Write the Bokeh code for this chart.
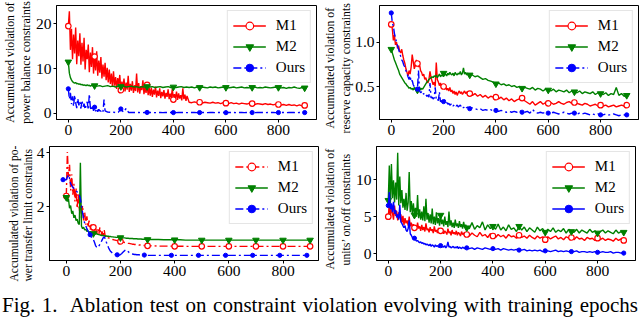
from bokeh.plotting import figure
from bokeh.layouts import column, row
from bokeh.models import (Div, Range1d, FixedTicker, PrintfTickFormatter,
                          Legend, LegendItem, Title)
from bokeh.embed import file_html
from bokeh.resources import INLINE

FONT = "Liberation Serif"

# ---------------- data ----------------
X_TICKS = [0, 200, 400, 600, 800]

# Panel 1: power balance constraints
EP1_M1 = list(range(0, 453, 4)) + list(range(460, 901, 10))
P1_M1 = [
    19.5, 22.8, 14.2, 18.9, 12.1, 17.6, 13.4, 19.2, 11.0, 16.3, 12.8, 17.9, 10.9,
    15.8, 11.6, 16.9, 9.8, 14.2, 12.1, 15.4, 9.2, 13.6, 10.4, 14.8, 8.9, 12.7,
    9.6, 13.9, 8.4, 11.8, 9.1, 12.6, 7.8, 10.9, 8.2, 11.3, 7.4, 10.2, 6.9,
    9.8, 6.6, 8.9, 5.9, 9.4, 6.2, 8.1, 5.5, 7.9, 6.4, 8.6, 5.2, 7.1,
    5.6, 7.8, 4.9, 6.9, 5.3, 8.4, 4.8, 6.6, 5.1, 7.2, 4.6, 6.3, 5.0,
    8.9, 4.7, 6.8, 4.4, 6.1, 5.2, 7.4, 4.3, 5.9, 4.6, 6.4, 4.1, 5.7,
    4.0, 5.8, 3.7, 5.3, 4.2, 6.0, 3.6, 5.1, 3.9, 5.6, 3.4, 4.8, 3.8,
    5.2, 3.3, 4.6, 3.7, 5.4, 3.2, 4.4, 3.6, 5.5, 3.1, 4.3, 3.4, 4.9,
    3.0, 4.5, 3.3, 4.1, 2.9, 5.6, 3.2, 4.2, 2.8, 3.9,
    2.5, 2.4, 2.6, 2.4, 2.5, 2.3, 2.5, 2.4, 2.3, 2.5,
    2.3, 2.4, 2.2, 2.4, 2.3, 2.2, 2.4, 2.2, 2.3, 2.1,
    2.3, 2.2, 2.1, 2.3, 2.2, 2.0, 2.2, 2.1, 2.0, 2.2,
    2.0, 2.1, 1.9, 2.1, 2.0, 1.9, 2.0, 1.8, 2.0, 1.8,
    1.9, 1.7, 1.9, 1.7, 1.8,
]
EP1_M2 = list(range(0, 101, 4)) + list(range(110, 901, 10))
P1_M2 = [
    11.5, 9.0, 8.0, 7.5, 7.1, 6.9, 6.8, 6.9, 6.6, 6.7, 6.5, 6.6, 6.4,
    6.5, 6.3, 6.4, 6.3, 6.2, 6.4, 6.2, 6.3, 6.1, 6.2, 6.3, 6.1, 6.2,
    6.1, 6.2, 6.0, 6.1, 6.2, 6.0, 6.1, 5.9, 6.1, 6.0,
    6.1, 5.9, 6.0, 6.1, 5.9, 6.0, 5.8, 6.0, 5.9, 6.0,
    5.9, 6.0, 5.8, 5.9, 6.0, 5.8, 5.9, 6.0, 5.8, 5.9,
    5.8, 5.9, 6.0, 5.8, 5.9, 5.8, 5.9, 5.7, 5.9, 5.8,
    5.9, 5.8, 5.7, 5.9, 5.8, 5.9, 5.7, 5.8, 5.9, 5.8,
    5.7, 5.8, 5.9, 5.7, 5.8, 5.9, 5.7, 5.8, 5.7, 5.8,
    5.9, 5.7, 5.8, 5.7, 5.9, 5.8, 5.7, 5.8, 5.9, 5.8,
    5.7, 5.8, 5.6, 5.8, 5.7, 5.9, 5.7, 5.6, 5.8, 5.7,
]
EP1_OURS = list(range(0, 141, 4)) + list(range(150, 901, 10))
P1_OURS = [
    5.5, 3.2, 4.6, 2.1, 3.8, 1.6, 4.1, 2.4, 1.2, 3.3,
    1.8, 2.7, 1.1, 2.9, 1.5, 2.2, 0.9, 1.9, 2.6, 0.8,
    4.3, 1.3, 0.7, 1.8, 0.6, 1.4, 0.5, 1.1, 0.4, 0.9,
    0.6, 0.5, 0.8, 0.4, 3.1, 0.6,
    0.3, 0.25, 0.3, 0.2, 0.25, 1.0, 0.3, 1.1, 0.2, 0.25,
    0.2, 0.22, 0.2, 0.18, 0.2, 0.22, 0.2, 0.2, 0.18, 0.2,
    0.2, 0.18, 0.2, 0.2, 0.22, 0.2, 0.18, 0.2, 0.2, 0.2,
    0.18, 0.2, 0.2, 0.2, 0.18, 0.2, 0.2, 0.2, 0.18, 0.2,
    0.2, 0.18, 0.2, 0.2, 0.2, 0.18, 0.2, 0.2, 0.2, 0.18,
    0.2, 0.2, 0.18, 0.2, 0.2, 0.2, 0.18, 0.2, 0.2, 0.2,
    0.18, 0.2, 0.2, 0.2, 0.18, 0.2, 0.2, 0.2, 0.18, 0.2,
    0.2, 0.2, 0.18, 0.2, 0.2, 0.2,
]

# Panel 2: reserve capacity constraints
EP2 = list(range(0, 301, 4)) + list(range(310, 901, 10))
P2_M1 = [
    1.20, 1.15, 1.02, 1.08, 0.97, 1.00, 0.93, 0.96, 0.90, 0.88, 0.92, 0.85, 0.80,
    0.76, 0.70, 0.66, 0.62, 0.68, 0.64, 0.72, 0.86, 0.78, 0.70, 0.74, 0.80, 0.76,
    0.72, 0.75, 0.68, 0.66, 0.62, 0.64, 0.58, 0.60, 0.56, 0.54, 0.58, 0.67, 0.60,
    0.56, 0.52, 0.55, 0.50, 0.77, 0.58, 0.55, 0.51, 0.54, 0.49, 0.52, 0.50, 0.47,
    0.50, 0.46, 0.48, 0.45, 0.49, 0.44, 0.46, 0.42, 0.45, 0.41, 0.44, 0.40, 0.43,
    0.45, 0.42, 0.44, 0.41, 0.43, 0.45, 0.42, 0.44, 0.41, 0.43, 0.42,
    0.40, 0.42, 0.39, 0.41, 0.38, 0.40, 0.37, 0.39, 0.38, 0.38,
    0.36, 0.38, 0.35, 0.37, 0.34, 0.36, 0.33, 0.35, 0.36, 0.37,
    0.34, 0.32, 0.30, 0.33, 0.29, 0.31, 0.33, 0.30, 0.32, 0.31,
    0.32, 0.30, 0.31, 0.33, 0.31, 0.30, 0.32, 0.33, 0.31, 0.32,
    0.31, 0.30, 0.29, 0.31, 0.30, 0.28, 0.29, 0.30, 0.28, 0.29,
    0.28, 0.29, 0.27, 0.28, 0.29, 0.27, 0.28, 0.29, 0.28, 0.29,
]
P2_M2 = [
    0.92, 0.88, 0.84, 0.80, 0.77, 0.74, 0.71, 0.68, 0.64, 0.62, 0.60, 0.58, 0.56,
    0.54, 0.53, 0.51, 0.50, 0.48, 0.49, 0.47, 0.48, 0.46, 0.49, 0.47, 0.48, 0.46,
    0.47, 0.49, 0.46, 0.48, 0.47, 0.49, 0.51, 0.53, 0.55, 0.56, 0.58, 0.59, 0.60,
    0.61, 0.60, 0.62, 0.61, 0.63, 0.60, 0.62, 0.64, 0.61, 0.63, 0.62, 0.65, 0.63,
    0.64, 0.62, 0.65, 0.63, 0.66, 0.64, 0.63, 0.65, 0.62, 0.66, 0.64, 0.63, 0.65,
    0.64, 0.67, 0.63, 0.65, 0.71, 0.64, 0.66, 0.63, 0.65, 0.64, 0.63,
    0.63, 0.61, 0.62, 0.60, 0.58, 0.59, 0.57, 0.56, 0.55, 0.53,
    0.54, 0.52, 0.53, 0.51, 0.52, 0.50, 0.51, 0.49, 0.50, 0.48,
    0.49, 0.48, 0.47, 0.49, 0.46, 0.48, 0.47, 0.45, 0.47, 0.46,
    0.45, 0.47, 0.44, 0.46, 0.45, 0.44, 0.46, 0.43, 0.45, 0.44,
    0.43, 0.45, 0.42, 0.44, 0.43, 0.42, 0.44, 0.41, 0.43, 0.42,
    0.41, 0.43, 0.40, 0.42, 0.41, 0.49, 0.40, 0.42, 0.39, 0.40,
]
P2_OURS = [
    1.33, 1.22, 1.18, 1.10, 1.05, 1.00, 0.96, 0.92, 0.88, 0.84, 0.80, 0.78, 0.74,
    0.72, 0.68, 0.65, 0.61, 0.58, 0.62, 0.55, 0.57, 0.52, 0.50, 0.48, 0.46, 0.47,
    0.68, 0.45, 0.43, 0.44, 0.41, 0.42, 0.40, 0.41, 0.39, 0.40, 0.38, 0.54, 0.37,
    0.38, 0.36, 0.37, 0.49, 0.35, 0.36, 0.34, 0.44, 0.33, 0.34, 0.32, 0.33, 0.35,
    0.31, 0.32, 0.30, 0.31, 0.29, 0.30, 0.31, 0.28, 0.29, 0.30, 0.28, 0.29, 0.27,
    0.28, 0.29, 0.27, 0.28, 0.26, 0.27, 0.28, 0.26, 0.27, 0.26, 0.25,
    0.26, 0.25, 0.24, 0.25, 0.23, 0.24, 0.23, 0.24, 0.22, 0.23,
    0.22, 0.23, 0.22, 0.21, 0.22, 0.21, 0.22, 0.21, 0.23, 0.21,
    0.21, 0.22, 0.20, 0.24, 0.21, 0.20, 0.21, 0.20, 0.21, 0.20,
    0.20, 0.21, 0.20, 0.19, 0.20, 0.21, 0.20, 0.19, 0.20, 0.20,
    0.19, 0.20, 0.19, 0.20, 0.19, 0.18, 0.19, 0.18, 0.19, 0.18,
    0.18, 0.19, 0.18, 0.18, 0.19, 0.18, 0.17, 0.18, 0.18, 0.18,
]

# Panel 3: power transfer limit constraints
EP3 = list(range(0, 301, 4)) + list(range(320, 901, 20))
P3_M1 = [
    2.40, 4.02, 3.10, 3.55, 2.60, 3.20, 2.45, 2.85, 2.20, 2.70, 1.95, 2.50, 1.85,
    2.25, 1.60, 2.05, 1.50, 1.80, 1.35, 1.65, 1.25, 1.50, 1.15, 1.35, 1.10, 1.25,
    1.05, 1.30, 1.00, 1.20, 0.98, 1.25, 0.95, 1.10, 0.92, 1.15, 0.90, 0.95, 0.88,
    0.86, 0.84, 0.83, 0.82, 0.80, 0.79, 0.78, 0.77, 0.76, 0.75, 0.74, 0.73, 0.72,
    0.71, 0.70, 0.69, 0.68, 0.67, 0.66, 0.66, 0.65, 0.64, 0.63, 0.63, 0.62, 0.62,
    0.61, 0.61, 0.60, 0.60, 0.59, 0.59, 0.58, 0.58, 0.58, 0.57, 0.57,
    0.57, 0.56, 0.56, 0.56, 0.55, 0.56, 0.55, 0.55, 0.55, 0.55,
    0.55, 0.55, 0.55, 0.55, 0.55, 0.55, 0.55, 0.55, 0.55, 0.55,
    0.55, 0.55, 0.55, 0.55, 0.55, 0.55, 0.55, 0.55, 0.55, 0.55,
]
P3_M2 = [
    2.35, 2.20, 2.30, 1.95, 2.05, 1.75, 1.85, 1.60, 1.70, 1.50, 1.55, 1.40, 1.35,
    3.62, 1.30, 1.20, 1.25, 1.15, 1.18, 1.10, 1.12, 1.06, 1.09, 1.04, 1.06, 1.02,
    1.03, 1.00, 1.02, 0.99, 0.98, 0.97, 0.96, 0.95, 0.95, 0.94, 0.93, 0.93, 0.92,
    0.92, 0.91, 0.91, 0.90, 0.90, 0.89, 0.89, 0.88, 0.88, 0.88, 0.87, 0.87, 0.87,
    0.86, 0.86, 0.86, 0.85, 0.85, 0.85, 0.84, 0.84, 0.84, 0.84, 0.83, 0.83, 0.83,
    0.83, 0.82, 0.82, 0.82, 0.82, 0.81, 0.81, 0.81, 0.81, 0.80, 0.80,
    0.80, 0.80, 0.79, 0.79, 0.79, 0.79, 0.78, 0.78, 0.78, 0.78,
    0.78, 0.78, 0.78, 0.78, 0.78, 0.78, 0.78, 0.78, 0.78, 0.78,
    0.78, 0.78, 0.78, 0.78, 0.78, 0.78, 0.78, 0.78, 0.78, 0.78,
]
EP3_OURS = list(range(-12, 301, 4)) + list(range(308, 901, 20))
P3_OURS = [
    3.00, 3.00, 3.00,
    3.00, 3.10, 3.18, 3.05, 2.85, 2.78, 2.72, 2.68, 2.64, 2.60, 2.55, 2.50, 2.45,
    2.30, 2.05, 1.80, 1.55, 1.40, 1.30, 1.20, 1.12, 1.05, 0.98, 0.90, 0.85, 0.80,
    0.70, 0.58, 0.52, 0.50, 0.56, 0.62, 0.70, 0.78, 0.86, 0.90, 0.82, 0.70, 0.60,
    0.50, 0.42, 0.36, 0.32, 0.28, 0.26, 0.25, 0.24, 0.24, 0.25, 0.22, 0.25, 0.28,
    0.32, 0.36, 0.40, 0.42, 0.40, 0.36, 0.32, 0.30, 0.28, 0.27, 0.26, 0.25, 0.25,
    0.24, 0.24, 0.24, 0.23, 0.23, 0.23, 0.23, 0.23, 0.22, 0.22, 0.22,
    0.22, 0.22, 0.22, 0.22, 0.22, 0.22, 0.22, 0.22, 0.22, 0.22,
    0.22, 0.22, 0.22, 0.22, 0.22, 0.22, 0.22, 0.22, 0.22, 0.22,
    0.22, 0.22, 0.22, 0.22, 0.22, 0.22, 0.22, 0.22, 0.22, 0.22,
]

# Panel 4: units' on/off constraints
EP4 = list(range(0, 301, 4)) + list(range(310, 901, 10))
P4_M1 = [
    5.0, 6.8, 4.8, 6.2, 5.5, 4.6, 6.5, 5.1, 5.8, 4.5, 5.6, 4.8, 5.3,
    4.2, 5.1, 3.9, 4.8, 4.1, 4.5, 3.8, 5.0, 3.7, 4.2, 3.6, 4.0, 3.5,
    3.8, 3.3, 4.2, 3.4, 3.7, 3.1, 3.9, 3.2, 3.6, 3.0, 4.1, 3.2, 3.4,
    2.9, 3.6, 3.1, 3.3, 2.8, 3.7, 3.0, 3.2, 2.8, 3.5, 2.9, 3.1, 2.8,
    3.3, 2.7, 3.1, 2.9, 2.6, 3.4, 2.8, 3.0, 2.5, 3.2, 2.7, 2.9, 2.6,
    3.1, 2.5, 2.9, 2.7, 2.4, 3.0, 2.6, 2.8, 2.4, 2.9, 2.6,
    2.4, 2.8, 2.5, 2.3, 2.9, 2.4, 2.6, 2.2, 2.7, 2.4,
    2.2, 2.6, 2.3, 2.5, 2.1, 2.6, 2.3, 2.4, 2.1, 2.5,
    2.2, 2.4, 2.1, 2.5, 2.2, 2.0, 2.4, 2.1, 2.3, 1.9,
    2.3, 2.0, 2.2, 2.4, 2.0, 2.2, 1.9, 2.3, 2.1, 2.2,
    1.9, 2.3, 2.0, 2.1, 1.8, 2.2, 2.0, 2.1, 1.8, 2.1,
    1.9, 2.1, 1.8, 2.0, 1.9, 1.7, 2.1, 1.8, 2.0, 1.8,
]
P4_M2 = [
    7.2, 11.9, 6.8, 12.1, 7.5, 9.9, 6.9, 9.6, 7.3, 13.6, 6.5, 10.4, 6.8,
    8.6, 6.2, 7.4, 5.9, 8.2, 5.8, 6.9, 11.0, 5.6, 7.1, 5.4, 6.8, 5.2,
    6.2, 5.0, 7.9, 4.8, 6.0, 4.6, 5.7, 4.5, 6.4, 4.4, 7.4, 4.6, 5.5,
    4.2, 5.3, 4.1, 6.1, 4.0, 5.0, 3.9, 5.6, 4.1, 4.8, 3.8, 5.2, 4.0,
    4.6, 3.7, 5.0, 3.9, 4.4, 3.6, 5.7, 3.8, 4.5, 3.6, 4.2, 3.5, 4.6,
    3.7, 4.1, 3.5, 4.4, 3.6, 4.0, 3.4, 4.3, 3.6, 3.9, 3.5,
    3.4, 4.2, 3.3, 3.8, 3.5, 4.3, 3.2, 3.9, 3.4, 3.7,
    3.3, 4.0, 3.2, 3.6, 3.1, 3.9, 3.3, 3.5, 3.0, 3.7,
    3.2, 3.6, 3.0, 3.5, 3.2, 2.9, 3.6, 3.1, 3.4, 2.9,
    3.3, 3.0, 3.5, 2.9, 3.2, 3.0, 3.4, 2.8, 3.3, 3.0,
    2.9, 3.3, 2.8, 3.2, 3.0, 2.8, 3.3, 2.9, 3.1, 2.8,
    3.0, 3.2, 2.8, 3.1, 2.9, 2.7, 3.2, 2.8, 3.0, 2.9,
]
P4_OURS = [
    6.5, 8.3, 6.0, 6.8, 5.6, 7.0, 5.4, 5.9, 4.9, 5.3, 4.6, 6.6, 4.3,
    4.1, 3.8, 3.5, 3.8, 3.2, 3.0, 3.4, 4.5, 2.7, 2.5, 2.2, 2.0, 2.1,
    1.9, 1.7, 1.8, 1.6, 1.5, 1.6, 1.4, 1.5, 1.3, 1.4, 1.2, 1.3, 1.2,
    1.1, 1.3, 1.0, 1.2, 1.1, 0.9, 1.2, 1.0, 1.1, 0.9, 1.0, 1.1, 0.9,
    1.0, 0.9, 1.1, 0.8, 1.0, 1.6, 0.9, 1.0, 0.8, 0.9, 1.0, 0.8, 0.9,
    0.8, 1.0, 0.7, 0.9, 0.8, 0.7, 0.9, 0.8, 0.7, 0.9, 0.8,
    0.7, 0.8, 0.6, 0.8, 0.7, 0.6, 0.8, 0.7, 0.6, 0.7,
    0.6, 0.7, 0.5, 0.7, 0.6, 0.5, 0.6, 0.5, 0.6, 0.5,
    0.5, 0.6, 0.4, 0.5, 0.4, 0.5, 0.4, 0.5, 0.3, 0.4,
    0.4, 0.3, 0.4, 0.5, 0.3, 0.4, 0.3, 0.4, 0.3, 0.3,
    0.3, 0.4, 0.2, 0.3, 0.3, 0.2, 0.3, 0.2, 0.3, 0.2,
    0.2, 0.3, 0.2, 0.2, 0.3, 0.1, 0.2, 0.2, 0.1, 0.1,
]

LABELS = ["M1", "M2", "Ours"]
COLORS = ["#ff0000", "#008000", "#0000ff"]
MARKERS = ["circle", "inverted_triangle", "circle"]

# ---------------- helpers ----------------
def make_panel(width, height, mbl, mbr, mbt, mbb, xr, yr, yticks, yfmt):
    p = figure(width=width, height=height, output_backend="svg",
               toolbar_location=None, x_range=Range1d(*xr), y_range=Range1d(*yr),
               min_border_left=mbl, min_border_right=mbr,
               min_border_top=mbt, min_border_bottom=mbb)
    p.xgrid.visible = False
    p.ygrid.visible = False
    p.outline_line_color = "black"
    p.outline_line_width = 1
    p.outline_line_alpha = 1
    p.background_fill_color = "white"
    p.border_fill_color = "white"
    for ax in (p.xaxis[0], p.yaxis[0]):
        ax.major_label_text_font = FONT
        ax.major_label_text_font_size = "15.5px"
        ax.major_label_text_color = "black"
        ax.axis_line_color = "black"
        ax.major_tick_line_color = "black"
        ax.major_tick_out = 3
        ax.major_tick_in = 0
        ax.minor_tick_line_color = None
        ax.major_label_standoff = 2
    p.xaxis.ticker = FixedTicker(ticks=X_TICKS)
    p.xaxis.formatter = PrintfTickFormatter(format="%d")
    p.yaxis.ticker = FixedTicker(ticks=yticks)
    p.yaxis.formatter = PrintfTickFormatter(format=yfmt)
    return p


def add_ylabel(p, lines, offsets, size):
    # inner line (next to the axis) first, outer line after
    for t, off in reversed(list(zip(lines, offsets))):
        if off is None:
            ttl = Title(text=t, align="center", standoff=0)
        else:
            ttl = Title(text=t, align="left", offset=off, standoff=0)
        ttl.text_font = FONT
        ttl.text_font_size = size
        ttl.text_font_style = "normal"
        ttl.text_color = "black"
        p.add_layout(ttl, "left")


def add_series(p, xs, ys, color, marker, dash, msize, offset):
    n = min(len(xs), len(ys))
    xs, ys = xs[:n], ys[:n]
    r_line = p.line(xs, ys, line_color=color, line_width=1.4, line_dash=dash)
    mx = [x for x in xs if (x - offset) % 100 == 0]
    my = [y for x, y in zip(xs, ys) if (x - offset) % 100 == 0]
    if color == "#ff0000":
        r_mark = p.scatter(mx, my, marker="circle", size=msize, line_color=color,
                           fill_color="white", line_width=1.2)
    else:
        r_mark = p.scatter(mx, my, marker=marker, size=msize, line_color=color,
                           fill_color=color, line_width=1)
    return [r_line, r_mark]


def add_legend(p, groups):
    items = [LegendItem(label=lab, renderers=rs) for lab, rs in zip(LABELS, groups)]
    leg = Legend(items=items, location="top_right")
    leg.label_text_font = FONT
    leg.label_text_font_size = "15px"
    leg.label_text_color = "black"
    leg.glyph_width = 33
    leg.glyph_height = 19
    leg.label_height = 19
    leg.label_standoff = 10
    leg.spacing = 2
    leg.padding = 5
    leg.margin = 5
    leg.border_line_color = "#cccccc"
    leg.border_line_width = 1
    leg.background_fill_alpha = 0.85
    p.add_layout(leg)


SOLID = "solid"
DASHDOT = "8 3 2 3"
MSIZES = [5.5, 6.5, 4.2]

# ---------------- panels ----------------
p1 = make_panel(320, 144, 53, 4, 5, 21, (-45, 945), (-1.35, 24.1), [0, 10, 20], "%d")
g1 = [add_series(p1, EP1_M1, P1_M1, COLORS[0], MARKERS[0], SOLID, MSIZES[0], 0),
      add_series(p1, EP1_M2, P1_M2, COLORS[1], MARKERS[1], SOLID, MSIZES[1], 0),
      add_series(p1, EP1_OURS, P1_OURS, COLORS[2], MARKERS[2], DASHDOT, MSIZES[2], 0)]
add_legend(p1, g1)
add_ylabel(p1, ["Accumulated violation of", "power balance constraints"],
           [None, None], "11.8px")

p2 = make_panel(320, 144, 55, 2, 5, 25, (-45, 945), (0.128, 1.414), [0.5, 1.0], "%.1f")
g2 = [add_series(p2, EP2, P2_M1, COLORS[0], MARKERS[0], SOLID, MSIZES[0], 0),
      add_series(p2, EP2, P2_M2, COLORS[1], MARKERS[1], SOLID, MSIZES[1], 0),
      add_series(p2, EP2, P2_OURS, COLORS[2], MARKERS[2], DASHDOT, MSIZES[2], 0)]
add_legend(p2, g2)
add_ylabel(p2, ["Accumulated violation of", "reserve capacity constraints"],
           [-9, -14], "11.8px")

p3 = make_panel(320, 141, 49, 2, 2, 25, (-62, 931), (0.03, 4.22), [2, 4], "%d")
g3 = [add_series(p3, EP3, P3_M1, COLORS[0], MARKERS[0], DASHDOT, MSIZES[0], 0),
      add_series(p3, EP3, P3_M2, COLORS[1], MARKERS[1], SOLID, MSIZES[1], 0),
      add_series(p3, EP3_OURS, P3_OURS, COLORS[2], MARKERS[2], DASHDOT, MSIZES[2], -12)]
add_legend(p3, g3)
add_ylabel(p3, ["Accumulated violation of po-", "wer transfer limit constraints"],
           [-21, -21], "11.5px")

p4 = make_panel(320, 141, 54, 5, 2, 22, (-45, 945), (-0.9, 14.45), [0, 5, 10], "%d")
g4 = [add_series(p4, EP4, P4_M1, COLORS[0], MARKERS[0], SOLID, MSIZES[0], 0),
      add_series(p4, EP4, P4_M2, COLORS[1], MARKERS[1], SOLID, MSIZES[1], 0),
      add_series(p4, EP4, P4_OURS, COLORS[2], MARKERS[2], SOLID, MSIZES[2], 0)]
add_legend(p4, g4)
add_ylabel(p4, ["Accumulated violation of", "units\u2019 on/off constraints"],
           [-9, -5], "11.8px")

CAPTION = "Fig. 1.&nbsp; Ablation test on constraint violation evolving with training epochs"
caption = Div(
    text=('<div style="font-family:\'Liberation Serif\',serif;font-size:21px;'
          'line-height:21px;width:636px;text-align:justify;text-align-last:justify;'
          'color:black;margin:0 0 0 2px;padding:0;">' + CAPTION + '</div>'),
    width=640, height=23, margin=(10, 0, 0, 0))

layout = column(row(p1, p2), row(p3, p4), caption)

open("out.html", "w").write(file_html(layout, INLINE))
